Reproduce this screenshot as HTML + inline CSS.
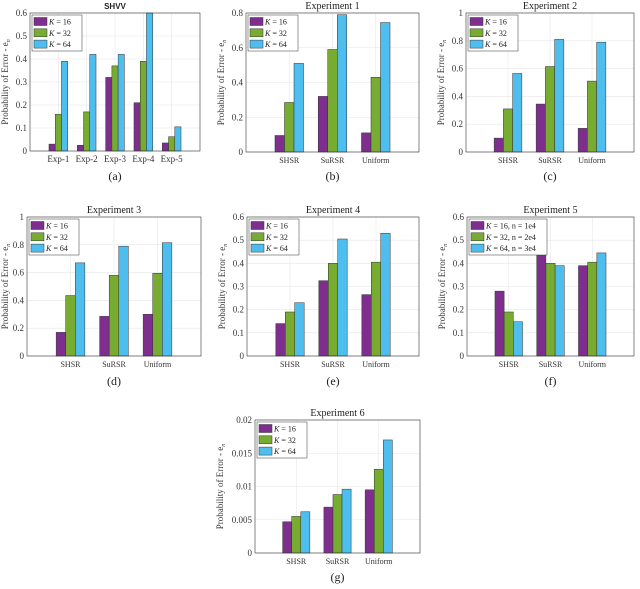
<!DOCTYPE html>
<html><head><meta charset="utf-8"><style>
body{margin:0;background:#fff;width:640px;height:584px;overflow:hidden}
svg{font-family:"Liberation Serif",serif}
</style></head><body>
<svg id="fig" width="640" height="584" viewBox="0 0 640 584"></svg>
<script>
const NS="http://www.w3.org/2000/svg";
const cats3=["SHSR","SuRSR","Uniform"];
const catsA=["Exp-1","Exp-2","Exp-3","Exp-4","Exp-5"];
const aK16=[0.03,0.025,0.32,0.21,0.035], aK32=[0.16,0.17,0.37,0.39,0.062], aK64=[0.39,0.42,0.42,0.6,0.105];
const bK16=[0.095,0.32,0.11], bK32=[0.285,0.59,0.43], bK64=[0.51,0.79,0.745];
const cK16=[0.1,0.345,0.17], cK32=[0.31,0.615,0.51], cK64=[0.565,0.81,0.79];
const dK16=[0.17,0.285,0.3], dK32=[0.435,0.58,0.595], dK64=[0.67,0.79,0.815];
const eK16=[0.14,0.325,0.265], eK32=[0.19,0.4,0.405], eK64=[0.23,0.505,0.53];
const fK16=[0.28,0.47,0.39], fK32=[0.19,0.4,0.405], fK64=[0.148,0.39,0.445];
const gK16=[0.0047,0.0069,0.0095], gK32=[0.0055,0.0088,0.0126], gK64=[0.0062,0.0096,0.017];
const ticks06=["0","0.1","0.2","0.3","0.4","0.5","0.6"];
const ticks08=["0","0.2","0.4","0.6","0.8"];
const ticks1=["0","0.2","0.4","0.6","0.8","1"];
const ticks02=["0","0.005","0.01","0.015","0.02"];
const legK=[" = 16"," = 32"," = 64"];
const legF=[" = 16,  n = 1e4"," = 32,  n = 2e4"," = 64,  n = 3e4"];
const colors=["#7E2F8E","#77AC30","#4DBEEE"];
const svg=document.getElementById('fig');
function el(t,a,p){const e=document.createElementNS(NS,t);for(const k in a)e.setAttribute(k,a[k]);(p||svg).appendChild(e);return e;}
function panel(o){
  const g=el('g',{});
  
  
  const {L,R,T,B}=o; const n=o.cats.length; const xmax=n+1;
  const ymax=parseFloat(o.ticks[o.ticks.length-1]);
  const xs=v=>L+(R-L)*v/xmax, ys=v=>B-(B-T)*v/ymax;
  el('rect',{x:L,y:T,width:R-L,height:B-T,fill:'#fff'},g);
  o.ticks.forEach(t=>{const v=parseFloat(t),y=ys(v);
    el('line',{x1:L,x2:R,y1:y,y2:y,stroke:'#e6e6e6','stroke-width':0.6},g);
    const tx=el('text',{x:L-3,y:y+3,'text-anchor':'end','font-size':9,fill:'#333'},g);tx.textContent=t;
    
    
  });
  o.cats.forEach((c,i)=>{const x=xs(i+1);
    el('line',{x1:x,x2:x,y1:T,y2:B,stroke:'#e6e6e6','stroke-width':0.6},g);
    const tx=el('text',{x:x,y:B+11,'text-anchor':'middle','font-size':o.small?8:9,fill:'#333'},g);tx.textContent=c;
    
    
  });
  const bw=0.22;
  o.series.forEach((s,si)=>{s.forEach((v,i)=>{
    const x0=xs(i+1+(si-1)*bw-bw/2), x1=xs(i+1+(si-1)*bw+bw/2);
    const r=el('rect',{x:x0,y:ys(v),width:x1-x0,height:B-ys(v),fill:colors[si],stroke:'#333','stroke-width':0.5},g);
    
    
  });});
  el('rect',{x:L,y:T,width:R-L,height:B-T,fill:'none',stroke:'#333','stroke-width':0.6},g);
  const ti=el('text',{x:(L+R)/2,y:T-4,'text-anchor':'middle','font-size':o.id==='a'?8:10,'font-weight':o.id==='a'?'bold':'normal','font-family':o.id==='a'?'Liberation Sans, sans-serif':'Liberation Serif, serif',fill:'#222'},g);
  ti.textContent=o.title;
  
  
  const yo=o.yo||22;
  const yl=el('text',{x:0,y:0,transform:`translate(${L-yo},${(T+B)/2}) rotate(-90)`,'text-anchor':'middle','font-size':9,fill:'#333'},g);
  yl.textContent='Probability of Error - e';
  const sub=el('tspan',{'font-size':6,'font-style':'italic',dy:2},yl);sub.textContent='n';
  
  
  const lw=o.leg===legF?78:50;
  const lg=el('g',{},g);
  
  
  el('rect',{x:L+2,y:T+2,width:lw,height:36,fill:'#fff',stroke:'#333','stroke-width':0.5},lg);
  o.leg.forEach((t,i)=>{
    el('rect',{x:L+4,y:T+4.5+i*11.3,width:13,height:8,fill:colors[i],stroke:'#333','stroke-width':0.5},lg);
    const tx=el('text',{x:L+19,y:T+11.5+i*11.3,'font-size':8,fill:'#222'},lg);
    const k=el('tspan',{'font-style':'italic'},tx);k.textContent='K';
    const rest=el('tspan',{},tx);rest.textContent=t;
    
    
  });
  const cap=el('text',{x:(L+R)/2,y:o.cap,'text-anchor':'middle','font-size':12,fill:'#222'},g);
  cap.textContent='('+o.id+')';
  
  
}
panel({id:'a',title:'SHVV',L:30,R:200,T:13,B:151,cats:catsA,series:[aK16,aK32,aK64],ticks:ticks06,leg:legK,cap:180});
panel({id:'b',title:'Experiment 1',L:246,R:419,T:13,B:152,cats:cats3,series:[bK16,bK32,bK64],ticks:ticks08,leg:legK,cap:180,small:true});
panel({id:'c',title:'Experiment 2',L:466,R:634,T:13,B:152,cats:cats3,series:[cK16,cK32,cK64],ticks:ticks1,leg:legK,cap:180,small:true});
panel({id:'d',title:'Experiment 3',L:27,R:201,T:217,B:356,cats:cats3,series:[dK16,dK32,dK64],ticks:ticks1,leg:legK,cap:385,small:true,yo:19});
panel({id:'e',title:'Experiment 4',L:247,R:419,T:217,B:356,cats:cats3,series:[eK16,eK32,eK64],ticks:ticks06,leg:legK,cap:385,small:true});
panel({id:'f',title:'Experiment 5',L:467,R:634,T:217,B:356,cats:cats3,series:[fK16,fK32,fK64],ticks:ticks06,leg:legF,cap:385,small:true});
panel({id:'g',title:'Experiment 6',L:255,R:420,T:420,B:553,cats:cats3,series:[gK16,gK32,gK64],ticks:ticks02,leg:legK,cap:581,small:true,yo:32});
</script>
</body></html>
